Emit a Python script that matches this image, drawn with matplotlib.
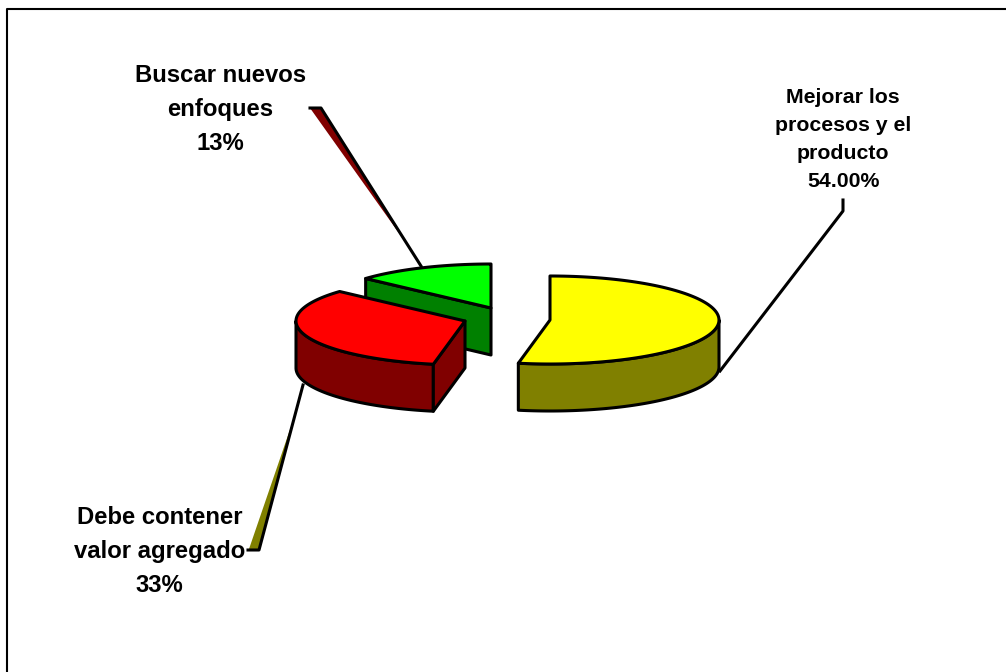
import numpy as np
import matplotlib
matplotlib.use("Agg")
import matplotlib.pyplot as plt

# slice shares as drawn (label of the first one says 54.00% but the wedge is a bit smaller)
labels = ["Mejorar los\nprocesos y el\nproducto\n54.00%", "Debe contener\nvalor agregado\n33%", "Buscar nuevos\nenfoques\n13%"]
shares = [53.0, 33.7, 13.3]
top_colors = ["#ffff00", "#ff0000", "#00ff00"]
side_colors = ["#808000", "#800000", "#008000"]
apex_x = [550, 465, 491]
apex_y = [320, 321, 308]
label_x = [843, 159.5, 220.5]
label_y = [139.5, 551.5, 109.5]
label_size = [15.3, 17.2, 17.2]

RX = 169
RY = 44
DEPTH = 47
LW = 2.2

plt.rcParams["font.family"] = ["Liberation Sans", "DejaVu Sans"]
fig = plt.figure(figsize=(10.06, 6.72), dpi=100)
ax = fig.add_axes([0, 0, 1, 1])
ax.set_xlim(0, 1006)
ax.set_ylim(672, 0)
ax.axis("off")


def rim(cx, cy, a0, a1):
    # angles clockwise from 12 o'clock, y goes down the page
    t = np.radians(np.linspace(a0, a1, 120))
    return cx + RX * np.sin(t), cy - RY * np.cos(t)


def fill(x, y, color, z):
    ax.fill(x, y, facecolor=color, edgecolor="black", lw=LW, joinstyle="round", zorder=z)


# frame, only left and top show
ax.plot([7.5, 7.5, 1006], [672, 9, 9], color="black", lw=1.5, zorder=1)

# leader lines and their thin wedges
ax.fill([310, 321, 401], [108, 108, 236], color="#800000", lw=0, zorder=2)
ax.plot([310, 321, 421], [108, 108, 266], color="black", lw=LW, zorder=2)
ax.fill([249, 259, 296], [549, 550, 412], color="#808000", lw=0, zorder=2)
ax.plot([248, 259, 303], [550, 550, 385], color="black", lw=LW, zorder=2)
ax.plot([720, 843, 843], [371, 211, 200], color="black", lw=LW, zorder=2)

bounds = np.concatenate([[0], np.cumsum(shares)]) / np.sum(shares) * 360
# back to front: green, yellow, red
for z, i in enumerate([2, 0, 1], start=3):
    a0, a1 = bounds[i], bounds[i + 1]
    cx, cy = apex_x[i], apex_y[i]
    x, y = rim(cx, cy, a0, a1)
    # curved wall, only the part that faces the viewer
    v0, v1 = max(a0, 90), min(a1, 270)
    if v1 > v0:
        wx, wy = rim(cx, cy, v0, v1)
        fill(np.r_[wx, wx[::-1]], np.r_[wy, wy[::-1] + DEPTH], side_colors[i], z)
    # cut faces that can be seen
    if i == 1:
        fill([x[0], cx, cx, x[0]], [y[0], cy, cy + DEPTH, y[0] + DEPTH], side_colors[i], z)
    if i == 2:
        fill([x[0], cx, cx, x[0]], [y[0], cy, cy + DEPTH, y[0] + DEPTH], side_colors[i], z)
    fill(np.r_[cx, x], np.r_[cy, y], top_colors[i], z)

for i in range(3):
    ax.text(label_x[i], label_y[i], labels[i], fontsize=label_size[i], fontweight="bold",
            ha="center", va="center", linespacing=1.6, zorder=8)

fig.savefig("out.png", dpi=100)
